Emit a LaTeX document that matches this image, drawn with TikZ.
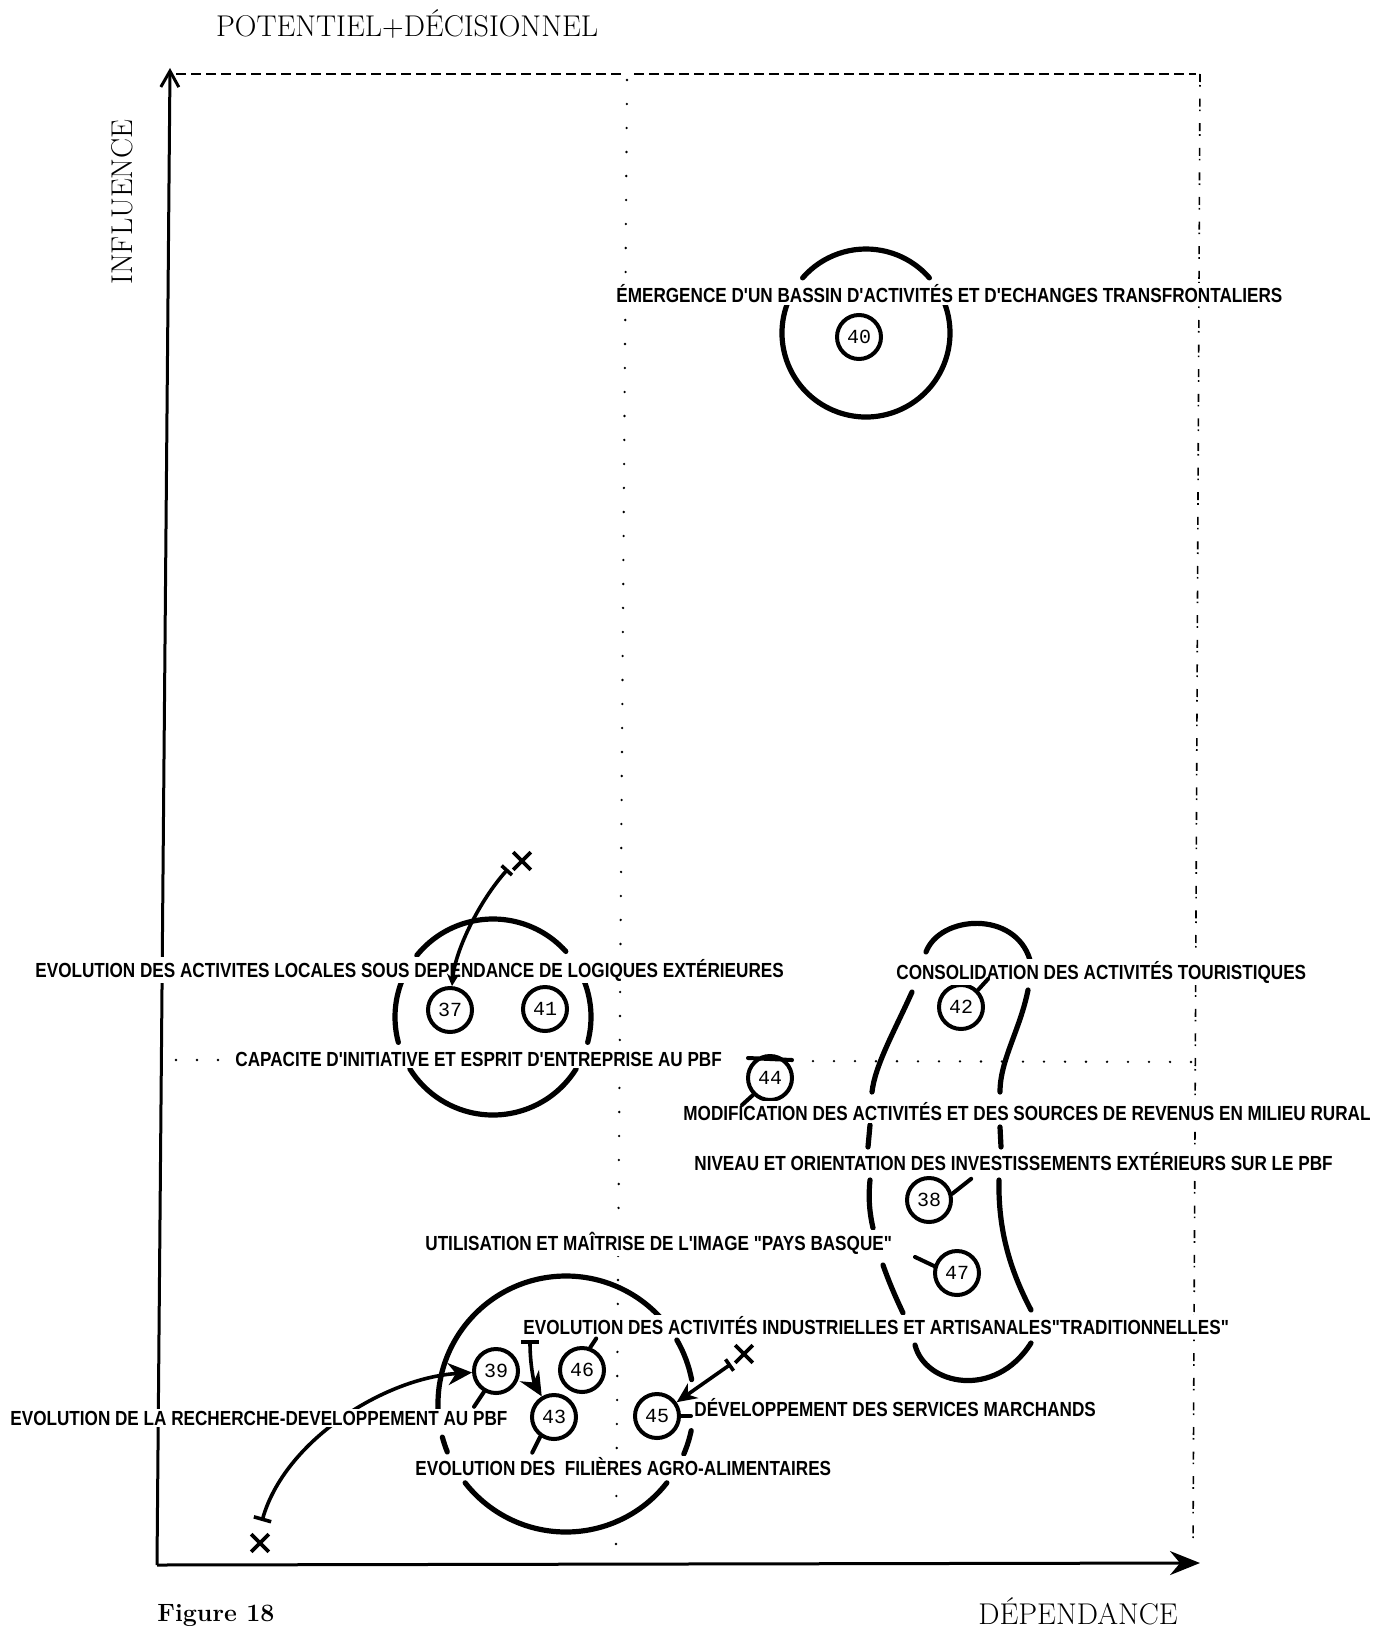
\documentclass[tikz,border=0pt]{standalone}
\usepackage{fontspec}
\newfontfamily\plotfont[FakeStretch=0.84]{Liberation Sans}
\newfontfamily\numfont{Liberation Mono}
\usetikzlibrary{arrows.meta,shapes.misc}

\tikzset{
  lbl/.style={anchor=west, inner sep=1pt, fill=white, font=\plotfont\bfseries\fontsize{10.2}{11}\selectfont},
  num/.style={circle, draw, line width=2pt, minimum size=22pt, inner sep=0pt, font=\numfont\fontsize{10}{10}\selectfont},
  ring/.style={line width=2.6pt, line cap=round},
  tail/.style={line width=2pt, line cap=round},
  xmark/.style={cross out, draw, line width=1.8pt, minimum size=7pt, inner sep=0pt},
  axis/.style={line width=1.5pt},
  move/.style={line width=1.8pt, {Bar[width=8pt]}-{Stealth[length=9pt,width=8pt]}},
  axlbl/.style={font=\fontsize{15}{17}\selectfont},
}

\begin{document}
\begin{tikzpicture}[x=0.5pt,y=0.5pt,yscale=-1,xscale=1]
		\useasboundingbox (0,0) rectangle (1391,1627);

		% Axes
		\draw[axis, -{Straight Barb[length=8pt,width=9pt]}] (157,1565) -- (170,68);
		\draw[axis, -{Stealth[length=15pt,width=12pt,inset=5pt]}] (157,1565) -- (1200,1563);

		% Frame: dashed top, dash-dot right, dotted middle
		\draw[line width=0.7pt, dash pattern=on 5pt off 2.5pt] (176,74) -- (622,74) (634,74) -- (1196,74);
		\draw[line width=0.8pt, dash pattern=on 4pt off 1.5pt on 0.8pt off 6pt] (1200,74) -- (1193,1545);
		\draw[line width=1.3pt, line cap=round, dash pattern=on 0pt off 12pt] (627,80) -- (616,1545);
		\draw[line width=1.3pt, line cap=round, dash pattern=on 0pt off 10.5pt] (176,1060) -- (222,1060) (792,1061) -- (1193,1062);

		% Axis titles
		\node[axlbl, anchor=west] (tpot) at (209,24) {POTENTIEL+DÉCISIONNEL};
		\node[axlbl, rotate=90] (tinf) at (122,202) {INFLUENCE};
		\node[axlbl] (tdep) at (1078,1611) {DÉPENDANCE};
		\node[anchor=north west, inner sep=0pt, font=\bfseries\fontsize{12.5}{14}\selectfont] (tfig) at (157,1604) {Figure 18};

		% Variables
		\node[num] (n40) at (859,337) {40};
		\node[num] (n37) at (450,1010) {37};
		\node[num] (n41) at (545,1009) {41};
		\node[num] (n44) at (770,1078) {44};
		\node[num] (n42) at (961,1007) {42};
		\node[num] (n38) at (929,1200) {38};
		\node[num] (n47) at (957,1273) {47};
		\node[num] (n39) at (496,1371) {39};
		\node[num] (n46) at (582,1370) {46};
		\node[num] (n43) at (554,1417) {43};
		\node[num] (n45) at (657,1416) {45};

		% Move of 39 (cut by its label)
		\node[xmark] (x39) at (260,1543) {};
		\coordinate (c39) at (262,1521);
		\draw[move, {Bar[width=9pt]}-{Stealth[length=12pt,width=11pt]}] (c39) .. controls (285,1440) and (385,1378) .. (n39);

		% Ring round 40
		\draw[ring] (866,333) ++(221:84) arc[start angle=221, end angle=319, radius=84];
		\draw[ring] (866,333) ++(200:84) arc[start angle=200, end angle=-20, radius=84];

		% Ring round 37 and 41
		\draw[ring] (493,1017) ++(219:98) arc[start angle=219, end angle=318, radius=98];
		\draw[ring] (493,1017) ++(165:98) arc[start angle=165, end angle=201, radius=98];
		\draw[ring] (493,1017) ++(-21:98) arc[start angle=-21, end angle=15, radius=98];
		\draw[ring] (493,1017) ++(32:98) arc[start angle=32, end angle=148, radius=98];

		% Ring round 39, 46, 43, 45
		\draw[ring] (566,1404) ++(176:128) arc[start angle=176, end angle=318, radius=128];
		\draw[ring] (566,1404) ++(158:128) arc[start angle=158, end angle=165, radius=128];
		\draw[ring] (566,1404) ++(38:128) arc[start angle=38, end angle=142, radius=128];
		\draw[ring] (566,1404) ++(12:128) arc[start angle=12, end angle=23, radius=128];
		\draw[ring] (566,1404) ++(330:128) arc[start angle=330, end angle=349, radius=128];

		% Outline round 42, 38, 47
		\draw[ring] (926,952) .. controls (940,915) and (1015,910) .. (1030,960);
		\draw[ring] (912,992) .. controls (895,1030) and (875,1065) .. (872,1092);
		\draw[ring] (1028,990) .. controls (1020,1030) and (1000,1060) .. (1000,1092);
		\draw[ring] (870,1125) -- (868,1147);
		\draw[ring] (1000,1127) -- (1001,1147);
		\draw[ring] (870,1180) .. controls (868,1200) and (870,1215) .. (873,1228);
		\draw[ring] (999,1180) .. controls (998,1230) and (1010,1270) .. (1031,1310);
		\draw[ring] (883,1265) .. controls (890,1285) and (897,1300) .. (903,1313);
		\draw[ring] (915,1345) .. controls (925,1385) and (995,1400) .. (1031,1343);

		% Labels
		\node[lbl] (l40) at (614,294) {ÉMERGENCE D'UN BASSIN D'ACTIVITÉS ET D'ECHANGES TRANSFRONTALIERS};
		\node[lbl] (l37) at (33,970) {EVOLUTION DES ACTIVITES LOCALES SOUS DEPENDANCE DE LOGIQUES EXTÉRIEURES};
		\node[lbl] (l41) at (233,1059) {CAPACITE D'INITIATIVE ET ESPRIT D'ENTREPRISE AU PBF};
		\node[lbl] (l42) at (894,972) {CONSOLIDATION DES ACTIVITÉS TOURISTIQUES};
		\node[lbl] (l44) at (681,1112) {MODIFICATION DES ACTIVITÉS ET DES SOURCES DE REVENUS EN MILIEU RURAL};
		\node[lbl] (l38) at (692,1162) {NIVEAU ET ORIENTATION DES INVESTISSEMENTS EXTÉRIEURS SUR LE PBF};
		\node[lbl] (l47) at (423,1243) {UTILISATION ET MAÎTRISE DE L'IMAGE "PAYS BASQUE"};
		\node[lbl] (l46) at (521,1326) {EVOLUTION DES ACTIVITÉS INDUSTRIELLES ET ARTISANALES"TRADITIONNELLES"};
		\node[lbl] (l39) at (8,1418) {EVOLUTION DE LA RECHERCHE-DEVELOPPEMENT AU PBF};
		\node[lbl] (l45) at (692,1408) {DÉVELOPPEMENT DES SERVICES MARCHANDS};
		\node[lbl] (l43) at (413,1467) {EVOLUTION DES\ \ FILIÈRES AGRO-ALIMENTAIRES};

		% Ticks toward labels
		\draw[tail] (n42.45) -- ++(10,-11);
		\draw[tail] (n38.15) -- ++(19,-15);
		\draw[tail] (n47.163) -- ++(-19,-9);
		\draw[tail] (n44.225) -- ++(-11,10);
		\draw[tail] (748,1058) -- (792,1060);
		\draw[tail] (n39.240) -- ++(-10,15);
		\draw[tail] (n43.235) -- ++(-8,16);
		\draw[tail] (n46.70) -- ++(6,-9);
		\draw[tail] (n45.east) -- ++(10,0);

		% Moves of 37, 43 and 45
		\node[xmark] (x37) at (522,861) {};
		\coordinate (c37) at (508,869);
		\draw[move, {Bar[width=7pt]}-{Stealth[length=6pt,width=6pt]}] (c37) .. controls (480,900) and (455,950) .. (n37);
		\coordinate (c43) at (530,1340);
		\draw[move, {Bar[width=9pt]}-{Stealth[length=12pt,width=11pt]}] (c43) .. controls (530,1368) and (535,1385) .. (n43);
		\node[xmark] (x45) at (744,1354) {};
		\coordinate (c45) at (731,1364);
		\draw[move, {Bar[width=7pt]}-{Stealth[length=10pt,width=9pt]}] (c45) -- (n45);
	\end{tikzpicture}
\end{document}
